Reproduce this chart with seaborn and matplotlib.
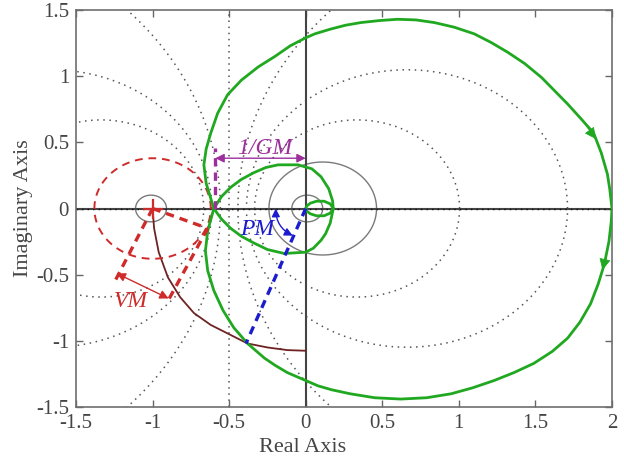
import numpy as np
import pandas as pd
import matplotlib
matplotlib.use("Agg")
import matplotlib.pyplot as plt
import seaborn as sns

# ---------------------------------------------------------------------------
# Nyquist locus, drawn as two branches that both start at L(j0) = 2:
#   lower branch: outer arc below the axis -> crossing at -0.6 -> inner loop
#                 over the axis -> small loop spiralling into the origin
#   upper branch: the conjugate path
# ---------------------------------------------------------------------------
lower_re = [2.00, 1.995, 1.98, 1.95, 1.91, 1.86, 1.79, 1.71, 1.61, 1.49,
            1.36, 1.23, 1.09, 0.95, 0.79, 0.62, 0.45, 0.29, 0.17, 0.08,
            0.00, -0.12, -0.20, -0.27, -0.38, -0.47, -0.54, -0.60, -0.64,
            -0.655, -0.64, -0.60, -0.55, -0.49, -0.42, -0.34, -0.26, -0.18,
            -0.05, 0.04, 0.10, 0.15, 0.175, 0.18, 0.16, 0.12, 0.07, 0.03,
            0.008, 0.0]
lower_im = [0.00, -0.10, -0.25, -0.42, -0.57, -0.72, -0.86, -0.98, -1.08,
            -1.17, -1.24, -1.30, -1.355, -1.40, -1.43, -1.44, -1.43, -1.40,
            -1.37, -1.34, -1.30, -1.24, -1.185, -1.13, -1.02, -0.90, -0.77,
            -0.62, -0.47, -0.32, -0.17, 0.00, 0.09, 0.16, 0.22, 0.27, 0.31,
            0.33, 0.33, 0.30, 0.24, 0.15, 0.06, 0.00, -0.035, -0.055, -0.055,
            -0.04, -0.02, 0.0]

upper_re = [2.00, 1.985, 1.97, 1.93, 1.88, 1.80, 1.71, 1.625, 1.54, 1.43,
            1.32, 1.21, 1.10, 0.97, 0.84, 0.72, 0.60, 0.48, 0.36, 0.26,
            0.16, 0.06, 0.00, -0.10, -0.20, -0.31, -0.42, -0.51, -0.575,
            -0.62, -0.65, -0.665, -0.65, -0.60, -0.55, -0.49, -0.42, -0.34,
            -0.25, -0.14, 0.00, 0.05, 0.10, 0.13, 0.16, 0.18, 0.16, 0.12,
            0.07, 0.03, 0.008, 0.0]
upper_im = [0.00, 0.15, 0.26, 0.42, 0.57, 0.675, 0.79, 0.89, 0.99, 1.095,
            1.18, 1.255, 1.32, 1.37, 1.405, 1.425, 1.43, 1.42, 1.405, 1.385,
            1.355, 1.32, 1.29, 1.23, 1.15, 1.07, 0.97, 0.86, 0.72, 0.57, 0.45,
            0.33, 0.19, 0.00, -0.08, -0.15, -0.21, -0.26, -0.31, -0.34,
            -0.33, -0.30, -0.24, -0.19, -0.11, 0.00, 0.035, 0.055, 0.055,
            0.04, 0.02, 0.0]

# arc of |L| = 1 from the critical point down to the imaginary axis
unit_arc_re = [-1.00, -0.99, -0.96, -0.90, -0.82, -0.73, -0.62, -0.50,
               -0.38, -0.25, -0.12, 0.00]
unit_arc_im = [0.00, -0.15, -0.33, -0.52, -0.67, -0.79, -0.88, -0.95,
               -1.02, -1.05, -1.07, -1.075]

# constant closed-loop magnitude circles of the grid (dB)
grid_db_dotted = [-6, -4, -2, 0, 2, 4, 6]
grid_db_solid = [-20, -10, 20]

# stability margins
critical_point = (-1.0, 0.0)
gm_crossing = -0.59            # real-axis crossing, |crossing| = 1/GM
gm_bar_top = 0.46
gm_arrow_y = 0.38
pm_point = (-0.39, -1.02)      # unit-magnitude crossing
pm_arc = [(-0.196, 0.0), (-0.085, -0.205)]
vm_point = (-0.64, -0.15)      # closest point of the locus to -1
vm_radius = 0.38
vm_ext_ends = [(-1.255, -0.57), (-0.91, -0.72)]
vm_arrow = [(-1.235, -0.49), (-0.895, -0.68)]

x_ticks = [-1.5, -1, -0.5, 0, 0.5, 1, 1.5, 2]
x_tick_labels = ["-1.5", "-1", "-0.5", "0", "0.5", "1", "1.5", "2"]
y_ticks = [-1.5, -1, -0.5, 0, 0.5, 1, 1.5]
y_tick_labels = ["-1.5", "-1", "-0.5", "0", "0.5", "1", "1.5"]

GREEN = "#20a820"
RED = "#cf2b2b"
BROWN = "#6e2222"
BLUE = "#1c1ccf"
PURPLE = "#9c2f9c"
GRID = "#555555"
TEXT = "#454545"

sns.set_theme(style="ticks")
plt.rcParams["font.family"] = ["Liberation Serif", "DejaVu Serif"]
plt.rcParams["axes.unicode_minus"] = False

fig = plt.figure(figsize=(6.24, 4.57), dpi=100)
ax = fig.add_axes([76 / 624, 50 / 457, 536 / 624, 397 / 457])

# --- M-circle grid -------------------------------------------------------
t = np.linspace(0, 2 * np.pi, 720)
for db in grid_db_dotted + grid_db_solid:
    solid = db in grid_db_solid
    style = dict(color="#7a7a7a", lw=1.0) if solid else \
        dict(color=GRID, lw=1.1, linestyle=(0, (1, 3)))
    if db == 0:
        ax.axvline(-0.5, zorder=1, **style)
        continue
    m = 10 ** (db / 20)
    c = -m ** 2 / (m ** 2 - 1)
    r = abs(m / (m ** 2 - 1))
    ax.plot(c + r * np.cos(t), r * np.sin(t), zorder=1, **style)

# real and imaginary axes
ax.axhline(0, color="#444444", lw=1.5, zorder=1.5)
ax.axvline(0, color="#444444", lw=1.5, zorder=1.5)
ax.axhline(0, color="#111111", lw=1.0, linestyle=(0, (1, 3)), zorder=1.6)

# --- Nyquist locus ---------------------------------------------------------
branches = [pd.DataFrame({"re": lower_re, "im": lower_im}),
            pd.DataFrame({"re": upper_re, "im": upper_im})]
for df in branches:
    sns.lineplot(data=df, x="re", y="im", sort=False, estimator=None,
                 color=GREEN, lw=2.0, ax=ax, zorder=4)

# direction arrows on the outer arc (clockwise)
def arrow_on(xs, ys, i, frac, back):
    a = np.array([xs[i], ys[i]])
    b = np.array([xs[i + 1], ys[i + 1]])
    tip = a + frac * (b - a)
    tail = np.array([xs[i + back], ys[i + back]])
    ax.annotate("", xy=tip, xytext=tail,
                arrowprops=dict(arrowstyle="-|>", color=GREEN, lw=0.5,
                                mutation_scale=18, shrinkA=0, shrinkB=0),
                zorder=5)

arrow_on(lower_re, lower_im, 3, 0.3, -1)
arrow_on(upper_re, upper_im, 3, 0.7, 2)

# --- unit-magnitude arc ---------------------------------------------------
ax.plot(unit_arc_re, unit_arc_im, color=BROWN, lw=1.3, zorder=3)

# --- vector margin ---------------------------------------------------------
ax.plot(vm_radius * np.cos(t) + critical_point[0], vm_radius * np.sin(t),
        color=RED, lw=1.4, linestyle=(0, (4, 3)), zorder=3)
ax.plot(*critical_point, marker="+", ms=14, mew=1.6, color=RED, zorder=6)
thick_dash = dict(color=RED, lw=2.4, linestyle=(0, (2.5, 1.8)), zorder=5)
ax.plot([critical_point[0], vm_point[0]], [critical_point[1], vm_point[1]],
        **thick_dash)
for start, end in zip([critical_point, vm_point], vm_ext_ends):
    ax.plot([start[0], end[0]], [start[1], end[1]], **thick_dash)
ax.annotate("", xy=vm_arrow[1], xytext=vm_arrow[0],
            arrowprops=dict(arrowstyle="<|-|>", color=RED, lw=1.0,
                            mutation_scale=13, shrinkA=0, shrinkB=0), zorder=6)
ax.text(-1.145, -0.70, "VM", color=RED, fontsize=17, fontstyle="italic",
        ha="center", va="center", zorder=7)

# --- phase margin ----------------------------------------------------------
ax.plot([0, pm_point[0]], [0, pm_point[1]], color=BLUE, lw=2.4,
        linestyle=(0, (2.5, 1.8)), zorder=5)
ax.annotate("", xy=pm_arc[1], xytext=pm_arc[0],
            arrowprops=dict(arrowstyle="<|-|>", color=BLUE, lw=1.0,
                            mutation_scale=12, shrinkA=0, shrinkB=0,
                            connectionstyle="arc3,rad=0.3"), zorder=6)
ax.text(-0.32, -0.16, "PM", color=BLUE, fontsize=17, fontstyle="italic",
        ha="center", va="center", zorder=7)

# --- gain margin -----------------------------------------------------------
ax.plot([gm_crossing, gm_crossing], [0, gm_bar_top], color=PURPLE, lw=2.4,
        linestyle=(0, (2.5, 1.8)), zorder=5)
ax.annotate("", xy=(0, gm_arrow_y), xytext=(gm_crossing, gm_arrow_y),
            arrowprops=dict(arrowstyle="<|-|>", color=PURPLE, lw=1.0,
                            mutation_scale=13, shrinkA=0, shrinkB=0), zorder=6)
ax.text(-0.27, 0.45, "1/GM", color=PURPLE, fontsize=17, fontstyle="italic",
        ha="center", va="center", zorder=7)

# --- axes ------------------------------------------------------------------
ax.set_xlim(-1.5, 2)
ax.set_ylim(-1.5, 1.5)
ax.set_xticks(x_ticks)
ax.set_xticklabels(x_tick_labels)
ax.set_yticks(y_ticks)
ax.set_yticklabels(y_tick_labels)
ax.tick_params(direction="in", length=5, width=1.0, top=True, right=True,
               color="#666666", labelcolor=TEXT, labelsize=15, pad=5)
for s in ax.spines.values():
    s.set_color("#6e6e6e")
    s.set_linewidth(1.2)
ax.set_xlabel("Real Axis", fontsize=16, color=TEXT)
ax.set_ylabel("Imaginary Axis", fontsize=16, color=TEXT)
ax.xaxis.set_label_coords(0.4235, -0.078)
ax.yaxis.set_label_coords(-0.08, 0.5)
ax.xaxis.label.set_va("top")

fig.savefig("out.png", dpi=100)
